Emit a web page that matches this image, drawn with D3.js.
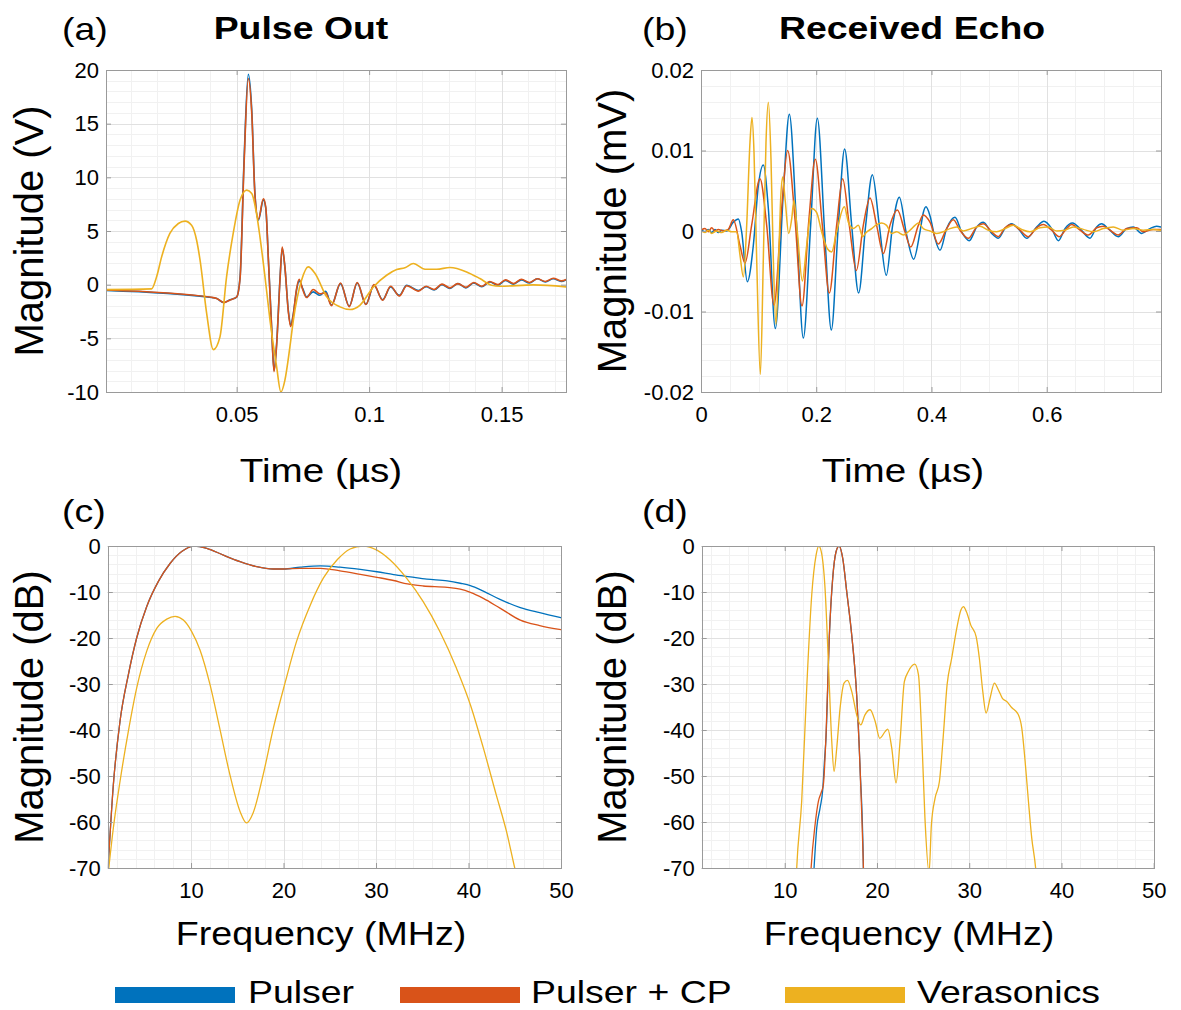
<!DOCTYPE html>
<html>
<head>
<meta charset="utf-8">
<script src="https://cdn.jsdelivr.net/npm/d3@7/dist/d3.min.js"></script>
<style>
  html, body { margin: 0; padding: 0; background: #fff; }
  svg { display: block; }
  text { font-family: "Liberation Sans", Arial, Helvetica, sans-serif; fill: #000; }
</style>
</head>
<body>
<svg id="fig" width="1181" height="1010"></svg>
<script>
// ---------------- series ----------------
const seriesNames  = ["Pulser", "Pulser + CP", "Verasonics"];
const seriesColors = ["#0072BD", "#D95319", "#EDB120"];

// (a) Pulse out: [time (µs), voltage (V)]
const pulseOutPulser = [
  [0.0007,-0.53],[0.0406,-1.2],[0.0425,-1.3],[0.0452,-1.67],[0.0475,-1.4],[0.0500,-1.15],[0.0513,0.72],
  [0.0528,11.6],[0.0544,19.6],[0.0557,16.3],[0.0569,8.5],[0.0582,6.0],[0.0601,7.9],[0.0610,7.1],[0.0620,2.28],
  [0.0632,-3.94],[0.0641,-8.0],[0.0651,-5.5],[0.0664,0.72],[0.0672,3.37],[0.0682,1.65],[0.0695,-2.39],
  [0.0704,-3.79],[0.0714,-2.7],[0.0726,-0.53],[0.0736,0.35],[0.0750,-0.4],[0.0764,-1.14],[0.0789,-0.67],
  [0.0814,-0.99],[0.0836,-0.62],[0.0858,-1.9],[0.0892,0.1],[0.0925,-2.0],[0.0955,0.15],[0.0988,-1.83],
  [0.1018,-0.06],[0.1051,-1.4],[0.1081,-0.22],[0.1114,-1.0],[0.1142,-0.06],[0.1186,-0.55],[0.1215,-0.2],
  [0.1245,-0.5],[0.1275,0.0],[0.1305,-0.35],[0.1335,0.1],[0.1365,-0.3],[0.1395,0.15],[0.1425,-0.2],
  [0.1455,0.25],[0.1485,-0.05],[0.1515,0.4],[0.1545,0.05],[0.1575,0.45],[0.1605,0.15],[0.1635,0.55],
  [0.1665,0.25],[0.1695,0.55],[0.1725,0.3],[0.1750,0.55]
];
const pulseOutCP = [
  [0.0007,-0.5],[0.0406,-1.18],[0.0425,-1.28],[0.0452,-1.67],[0.0475,-1.42],[0.0500,-1.15],[0.0513,0.6],
  [0.0528,11.2],[0.0544,19.2],[0.0557,16.0],[0.0569,8.4],[0.0582,6.1],[0.0601,8.0],[0.0610,7.2],[0.0620,2.2],
  [0.0632,-4.0],[0.0641,-8.1],[0.0651,-5.6],[0.0664,0.6],[0.0672,3.5],[0.0682,1.7],[0.0695,-2.5],
  [0.0704,-3.9],[0.0714,-2.8],[0.0726,-0.4],[0.0736,0.5],[0.0750,-0.5],[0.0764,-1.2],[0.0789,-0.45],
  [0.0814,-0.85],[0.0836,-0.75],[0.0858,-1.95],[0.0892,0.15],[0.0925,-2.05],[0.0955,0.2],[0.0988,-1.85],
  [0.1018,0.0],[0.1051,-1.45],[0.1081,-0.15],[0.1114,-1.05],[0.1142,-0.1],[0.1186,-0.6],[0.1215,-0.15],
  [0.1245,-0.45],[0.1275,0.05],[0.1305,-0.3],[0.1335,0.1],[0.1365,-0.25],[0.1395,0.2],[0.1425,-0.15],
  [0.1455,0.3],[0.1485,0.0],[0.1515,0.45],[0.1545,0.1],[0.1575,0.5],[0.1605,0.2],[0.1635,0.55],
  [0.1665,0.3],[0.1695,0.6],[0.1725,0.35],[0.1750,0.55]
];
const pulseOutVerasonics = [
  [0.0007,-0.46],[0.0179,-0.39],[0.0198,0.73],[0.0217,2.59],[0.0248,4.77],[0.0280,5.70],[0.0305,5.92],
  [0.0330,5.54],[0.0349,4.14],[0.0362,2.28],[0.0387,-2.69],[0.0412,-6.05],[0.0437,-4.87],[0.0462,0.73],
  [0.0487,4.77],[0.0513,7.88],[0.0538,8.81],[0.0557,8.50],[0.0575,6.63],[0.0588,4.46],[0.0607,0.73],
  [0.0626,-3.32],[0.0651,-7.67],[0.0667,-10.0],[0.0682,-8.91],[0.0701,-5.80],[0.0714,-3.32],[0.0745,0.41],
  [0.0770,1.66],[0.0796,1.04],[0.0840,-1.14],[0.0890,-2.07],[0.0928,-2.32],[0.0965,-1.92],[0.1016,-0.21],
  [0.1066,0.88],[0.1104,1.41],[0.1135,1.57],[0.1167,1.97],[0.1211,1.44],[0.1255,1.44],[0.1305,1.60],
  [0.1368,1.19],[0.1418,0.57],[0.1462,-0.05],[0.1494,-0.15],[0.1620,-0.02],[0.1750,-0.22]
];

// (b) Received echo: [time (µs), magnitude (mV)]
const echoPulser = [
  [0,0.0002],[0.0069,-0.0001],[0.0127,0.0002],[0.0185,-0.0002],[0.0243,0.0002],[0.0301,-0.0002],[0.0359,0.0001],
  [0.0445,0],[0.0561,0.0011],[0.0648,0.0015],[0.0706,-0.0001],[0.0804,-0.0063],[0.0908,-0.0018],[0.0995,0.0056],
  [0.1082,0.0082],[0.1169,0.0028],[0.1290,-0.0121],[0.1429,0.0048],[0.1533,0.0145],[0.1660,0.0007],
  [0.1776,-0.0133],[0.1903,0.0007],[0.2019,0.0140],[0.2152,-0.0009],[0.2262,-0.0123],[0.2383,0.0007],
  [0.2493,0.0102],[0.2615,0.0007],[0.2736,-0.0077],[0.2858,0.0007],[0.2974,0.0070],[0.3095,0.0007],
  [0.3216,-0.0055],[0.3326,0.0007],[0.3442,0.0042],[0.3569,-0.0005],[0.3691,-0.0035],[0.3801,-0.0001],
  [0.3859,0.0023],[0.3905,0.0030],[0.3974,0.0019],[0.4061,-0.0009],[0.4148,-0.0024],[0.4264,0.0003],
  [0.4408,0.0017],[0.4524,-0.0001],[0.4657,-0.0012],[0.4784,0.0005],[0.4900,0.0011],[0.5045,-0.0003],
  [0.5160,-0.0009],[0.5276,0.0003],[0.5392,0.0009],[0.5507,0.0003],[0.5652,-0.0009],[0.5825,0.0005],
  [0.5953,0.0012],[0.6086,0.0003],[0.6202,-0.0012],[0.6317,0.0003],[0.6450,0.0010],[0.6578,0.0003],
  [0.6751,-0.0009],[0.6867,0.0005],[0.6954,0.0009],[0.7069,0.0003],[0.7243,-0.0007],[0.7387,0.0003],
  [0.7503,0.0005],[0.7648,-0.0003],[0.7792,0.0003],[0.7908,0.0006],[0.7984,0.0005]
];
const echoCP = [
  [0,0.0001],[0.0069,0.0003],[0.0127,-0.0001],[0.0185,0.0004],[0.0243,0],[0.0301,0.0002],[0.0388,0],
  [0.0474,0.0002],[0.0561,0.0014],[0.0677,-0.0018],[0.0764,-0.0040],[0.0879,0.0007],[0.1024,0.0065],
  [0.1140,0.0007],[0.1267,-0.0092],[0.1400,0.0028],[0.1504,0.0100],[0.1631,0.0015],[0.1753,-0.0093],
  [0.1874,0.0015],[0.1984,0.0089],[0.2106,0.0007],[0.2227,-0.0077],[0.2354,0.0007],[0.2459,0.0065],
  [0.2574,0.0007],[0.2696,-0.0049],[0.2817,0.0007],[0.2933,0.0041],[0.3049,0.0007],[0.3164,-0.0028],
  [0.3280,0.0007],[0.3407,0.0026],[0.3540,-0.0001],[0.3639,-0.0020],[0.3772,0.0007],[0.3859,0.0020],
  [0.3974,0.0011],[0.4119,-0.0016],[0.4264,0.0003],[0.4379,0.0014],[0.4495,0.0001],[0.4640,-0.0009],
  [0.4784,0.0005],[0.4900,0.0009],[0.5045,-0.0001],[0.5160,-0.0007],[0.5276,0.0004],[0.5392,0.0008],
  [0.5536,0.0001],[0.5681,-0.0007],[0.5825,0.0004],[0.5941,0.0008],[0.6086,0.0001],[0.6219,-0.0007],
  [0.6346,0.0003],[0.6433,0.0008],[0.6578,0.0001],[0.6722,-0.0005],[0.6867,0.0004],[0.6983,0.0006],
  [0.7098,0.0001],[0.7243,-0.0005],[0.7387,0.0003],[0.7561,0.0004],[0.7677,-0.0001],[0.7850,0.0002],
  [0.7984,0.0002]
];
const echoVerasonics = [
  [0,0],[0.0069,-0.0002],[0.0127,0.0001],[0.0185,-0.0003],[0.0272,0],[0.0359,-0.0002],[0.0445,0.0001],
  [0.0532,-0.0001],[0.0619,-0.0001],[0.0677,-0.0030],[0.0735,-0.0057],[0.0793,0.0007],[0.0850,0.0110],
  [0.0885,0.0141],[0.0920,0.0098],[0.0966,-0.0034],[0.1030,-0.0178],[0.1082,-0.0034],[0.1128,0.0110],
  [0.1169,0.0160],[0.1215,0.0089],[0.1255,-0.0034],[0.1302,-0.0116],[0.1348,-0.0034],[0.1383,0.0040],
  [0.1417,0.0067],[0.1464,0.0036],[0.1521,-0.0003],[0.1574,0.0015],[0.1614,0.0038],[0.1672,-0.0001],
  [0.1759,-0.0062],[0.1834,-0.0018],[0.1921,0.0028],[0.2007,0.0023],[0.2094,-0.0001],[0.2193,-0.0022],
  [0.2268,-0.0026],[0.2354,-0.0001],[0.2488,0.0030],[0.2557,0.0011],[0.2644,0.0003],[0.2731,0.0007],
  [0.2806,-0.0007],[0.2864,-0.0002],[0.2962,0.0003],[0.3049,0.0008],[0.3135,0.0010],[0.3222,0.0007],
  [0.3309,-0.0003],[0.3396,-0.0001],[0.3512,-0.0005],[0.3627,0.0001],[0.3714,0.0007],[0.3772,0.0010],
  [0.3859,0.0003],[0.3974,0],[0.4090,-0.0003],[0.4206,-0.0001],[0.4321,0.0003],[0.4437,0.0005],
  [0.4553,0],[0.4697,0.0003],[0.4842,0.0006],[0.4987,0.0001],[0.5131,-0.0001],[0.5276,0.0003],
  [0.5420,0.0007],[0.5565,0.0002],[0.5710,-0.0001],[0.5883,0.0004],[0.6028,0.0005],[0.6173,0],
  [0.6317,0.0001],[0.6462,0.0005],[0.6635,0.0002],[0.6809,-0.0001],[0.6982,0.0003],[0.7156,0.0005],
  [0.7330,0.0001],[0.7503,0.0003],[0.7677,0.0001],[0.7850,0.0002],[0.7984,0.0001]
];

// (c) Pulse-out spectrum: [frequency (MHz), magnitude (dB)]
const specOutPulser = [
  [1.0,-71],[1.6,-51.9],[2.32,-38.1],[3.22,-28],[4.12,-20],[5.2,-13.2],[6.47,-7.7],[7.73,-3.8],[8.99,-1.2],
  [10.36,0],[11.7,-0.5],[13.5,-2.0],[15.3,-3.4],[17.1,-4.5],[18.9,-5.0],[20,-5.0],[21.8,-4.6],[24,-4.3],
  [26.1,-4.6],[28.3,-5.1],[30.1,-5.6],[31.9,-6.2],[33.7,-6.7],[35.5,-7.2],[37.7,-7.6],[39.1,-8.1],
  [40.2,-8.6],[41.6,-9.8],[43.4,-11.6],[45.6,-13.4],[47.7,-14.5],[50,-15.6]
];
const specOutCP = [
  [1.0,-71],[1.6,-51.9],[2.32,-38.1],[3.22,-28],[4.12,-20],[5.2,-13.2],[6.47,-7.7],[7.73,-3.8],[8.99,-1.2],
  [10.36,0],[11.7,-0.5],[13.5,-2.0],[15.3,-3.4],[17.1,-4.5],[18.9,-5.0],[20,-5.0],[21.8,-4.85],[24,-4.85],
  [26.1,-5.4],[28.3,-6.15],[30.1,-6.8],[31.9,-7.5],[33.4,-8.25],[35.1,-8.7],[37.7,-9.0],[39.1,-9.4],
  [40.2,-10.1],[41.6,-11.4],[43.4,-13.5],[45.6,-16.1],[47.7,-17.3],[50,-18.2]
];
const specOutVerasonics = [
  [1.0,-72],[1.6,-61.3],[2.32,-51.2],[3.22,-40.3],[4.12,-30.9],[5.2,-22.9],[6.29,-17.9],[7.37,-15.9],
  [8.27,-15.3],[9.17,-16.1],[10.07,-18.6],[10.97,-22.6],[12.06,-30.2],[13.1,-39.6],[14.2,-49.7],
  [15.3,-57.7],[16.0,-60.2],[16.7,-58.1],[17.8,-49.7],[18.9,-39.6],[20.2,-29.5],[21.4,-20.8],[22.9,-12.8],
  [24.3,-7.0],[25.8,-3.0],[27.2,-0.65],[28.6,0],[30.1,-0.9],[31.5,-3.0],[33.3,-7.0],[35.1,-12.1],
  [36.9,-18.6],[38.7,-26.6],[40.2,-34.5],[41.6,-43.9],[43.0,-54.1],[44.1,-62.0],[45.0,-70],[45.6,-75]
];

// (d) Echo spectrum: [frequency (MHz), magnitude (dB)]
const specEchoPulser = [
  [12.9,-80],[13.18,-70],[13.47,-61.3],[13.83,-57],[14.12,-53],[14.3,-47],[14.48,-41.5],[14.84,-19.5],
  [15.2,-7.1],[15.57,-1.2],[15.89,0],[16.29,-2.7],[16.72,-9.9],[17.26,-19.3],[17.8,-32.4],[18.17,-48.3],
  [18.53,-70],[18.6,-80]
];
const specEchoCP = [
  [12.6,-80],[12.86,-70],[13.29,-60.6],[13.65,-55.5],[13.94,-53.7],[14.19,-51.9],[14.48,-41.0],[14.84,-19.3],
  [15.2,-7.0],[15.57,-1.2],[15.89,0],[16.29,-2.7],[16.72,-9.9],[17.26,-19.3],[17.8,-32.4],[18.17,-48.3],
  [18.53,-70],[18.65,-80]
];
const specEchoVerasonics = [
  [11.1,-80],[11.3,-70],[11.84,-55.5],[12.4,-30.2],[12.93,-10.6],[13.4,-2.0],[13.69,0],[14.0,-1.6],
  [14.37,-9.2],[14.73,-25.1],[15.1,-42.5],[15.35,-49.0],[15.64,-43.9],[16.0,-35.3],[16.43,-29.8],
  [16.8,-29.2],[17.26,-31.6],[17.8,-36.7],[18.24,-38.9],[18.7,-36.7],[19.25,-35.6],[19.8,-38.1],
  [20.3,-41.8],[20.9,-40.3],[21.17,-39.8],[21.6,-43.9],[22.07,-51.5],[22.5,-42.5],[22.97,-29.5],
  [23.4,-27.3],[24.1,-25.7],[24.5,-28.0],[24.85,-41.0],[25.2,-59.1],[25.65,-71],[25.9,-60.6],[26.3,-54.8],
  [26.77,-51.2],[27.2,-41.0],[27.6,-30.2],[28.1,-24.4],[28.65,-17.9],[29.1,-13.9],[29.37,-13.2],
  [29.7,-14.3],[30.17,-17.2],[30.75,-19.7],[31.1,-24.4],[31.47,-31.6],[31.83,-36.3],[32.26,-33.1],
  [32.73,-29.8],[33.17,-31.3],[33.6,-33.1],[34.07,-33.8],[34.6,-35.1],[35.33,-36.7],[35.7,-39.6],
  [36.06,-46.8],[36.42,-55.5],[36.78,-63.5],[37.2,-70],[37.5,-78]
];

// ---------------- ticks ----------------
const timeTicksA      = [0.05, 0.1, 0.15];
const timeTickLabelsA = ["0.05", "0.1", "0.15"];
const voltTicks       = [20, 15, 10, 5, 0, -5, -10];
const voltTickLabels  = ["20", "15", "10", "5", "0", "-5", "-10"];
const timeTicksB      = [0, 0.2, 0.4, 0.6];
const timeTickLabelsB = ["0", "0.2", "0.4", "0.6"];
const echoTicks       = [0.02, 0.01, 0, -0.01, -0.02];
const echoTickLabels  = ["0.02", "0.01", "0", "-0.01", "-0.02"];
const freqTicks       = [10, 20, 30, 40, 50];
const freqTickLabels  = ["10", "20", "30", "40", "50"];
const dbTicks         = [0, -10, -20, -30, -40, -50, -60, -70];
const dbTickLabels    = ["0", "-10", "-20", "-30", "-40", "-50", "-60", "-70"];

// ---------------- layout ----------------
const svg = d3.select("#fig");
const defs = svg.append("defs");

const panels = [
  { id: "a", box: [106, 70, 566, 392], xDomain: [0.0007, 0.1743], yDomain: [-10, 20],
    xTicks: timeTicksA, xLabels: timeTickLabelsA, yTicks: voltTicks, yLabels: voltTickLabels,
    xMinor: 0.01, yMinor: 1, lw: 1.6,
    series: [pulseOutPulser, pulseOutCP, pulseOutVerasonics] },
  { id: "b", box: [701, 70, 1161, 392], xDomain: [0, 0.7984], yDomain: [-0.02, 0.02],
    xTicks: timeTicksB, xLabels: timeTickLabelsB, yTicks: echoTicks, yLabels: echoTickLabels,
    xMinor: 0.05, yMinor: 0.002, lw: 1.5,
    series: [echoPulser, echoCP, echoVerasonics] },
  { id: "c", box: [107.8, 546, 561, 868], xDomain: [1, 50], yDomain: [-70, 0],
    xTicks: freqTicks, xLabels: freqTickLabels, yTicks: dbTicks, yLabels: dbTickLabels,
    xMinor: 2, yMinor: 2, lw: 1.3,
    series: [specOutPulser, specOutCP, specOutVerasonics] },
  { id: "d", box: [701.7, 546, 1153.7, 868], xDomain: [1, 50], yDomain: [-70, 0],
    xTicks: freqTicks, xLabels: freqTickLabels, yTicks: dbTicks, yLabels: dbTickLabels,
    xMinor: 2, yMinor: 2, lw: 1.3,
    series: [specEchoPulser, specEchoCP, specEchoVerasonics] }
];

const AXIS_GRAY = "#9a9a9a";
const MAJOR_GRID = "#e1e1e1";
const MINOR_GRID = "#f1f1f1";
const TICK_FONT = 22;

function stepsIn(domain, step) {
  const lo = Math.ceil(domain[0] / step - 1e-6), hi = Math.floor(domain[1] / step + 1e-6);
  return d3.range(lo, hi + 1).map(i => +(i * step).toFixed(6));
}

function drawPanel(p) {
  const [x0, y0, x1, y1] = p.box;
  const x = d3.scaleLinear().domain(p.xDomain).range([x0, x1]);
  const y = d3.scaleLinear().domain(p.yDomain).range([y1, y0]);
  const g = svg.append("g").attr("class", "panel-" + p.id);

  defs.append("clipPath").attr("id", "clip-" + p.id)
    .append("rect").attr("x", x0).attr("y", y0).attr("width", x1 - x0).attr("height", y1 - y0);

  const isMajor = (v, ticks) => ticks.some(t => Math.abs(t - v) < 1e-9);
  const minorX = stepsIn(p.xDomain, p.xMinor).filter(v => !isMajor(v, p.xTicks));
  const minorY = stepsIn(p.yDomain, p.yMinor).filter(v => !isMajor(v, p.yTicks));
  const crisp = v => Math.round(v) + 0.5;

  // minor grid
  g.append("g").selectAll("line").data(minorX).join("line")
    .attr("x1", d => crisp(x(d))).attr("x2", d => crisp(x(d))).attr("y1", y0).attr("y2", y1)
    .attr("stroke", MINOR_GRID).attr("stroke-width", 1);
  g.append("g").selectAll("line").data(minorY).join("line")
    .attr("y1", d => crisp(y(d))).attr("y2", d => crisp(y(d))).attr("x1", x0).attr("x2", x1)
    .attr("stroke", MINOR_GRID).attr("stroke-width", 1);
  // major grid
  g.append("g").selectAll("line").data(p.xTicks).join("line")
    .attr("x1", d => crisp(x(d))).attr("x2", d => crisp(x(d))).attr("y1", y0).attr("y2", y1)
    .attr("stroke", MAJOR_GRID).attr("stroke-width", 1);
  g.append("g").selectAll("line").data(p.yTicks).join("line")
    .attr("y1", d => crisp(y(d))).attr("y2", d => crisp(y(d))).attr("x1", x0).attr("x2", x1)
    .attr("stroke", MAJOR_GRID).attr("stroke-width", 1);

  // data lines
  const line = d3.line().x(d => x(d[0])).y(d => y(d[1])).curve(d3.curveMonotoneX);
  g.append("g").attr("clip-path", "url(#clip-" + p.id + ")")
    .selectAll("path").data(p.series).join("path")
    .attr("d", line).attr("fill", "none")
    .attr("stroke", (d, i) => seriesColors[i])
    .attr("stroke-width", p.lw).attr("stroke-linejoin", "round").attr("stroke-linecap", "round");

  // box
  g.append("rect").attr("x", Math.round(x0) + 0.5).attr("y", Math.round(y0) + 0.5)
    .attr("width", Math.round(x1) - Math.round(x0)).attr("height", Math.round(y1) - Math.round(y0))
    .attr("fill", "none").attr("stroke", AXIS_GRAY).attr("stroke-width", 1);

  // axes with inward ticks on all four sides
  const fmtX = (d, i) => p.xLabels[i];
  const fmtY = (d, i) => p.yLabels[i];
  const styleAxis = sel => {
    sel.select(".domain").remove();
    sel.selectAll(".tick line").attr("stroke", AXIS_GRAY);
    sel.selectAll(".tick text").attr("fill", "#000").attr("font-size", TICK_FONT)
      .attr("font-family", '"Liberation Sans", Arial, Helvetica, sans-serif');
    sel.attr("font-size", null).attr("font-family", null);
  };
  g.append("g").attr("transform", `translate(0,${y1})`)
    .call(d3.axisBottom(x).tickValues(p.xTicks).tickFormat(fmtX).tickSizeInner(-5).tickSizeOuter(0).tickPadding(14))
    .call(styleAxis);
  g.append("g").attr("transform", `translate(0,${y0})`)
    .call(d3.axisTop(x).tickValues(p.xTicks).tickFormat("").tickSizeInner(-5).tickSizeOuter(0))
    .call(styleAxis);
  g.append("g").attr("transform", `translate(${x0},0)`)
    .call(d3.axisLeft(y).tickValues(p.yTicks).tickFormat(fmtY).tickSizeInner(-5).tickSizeOuter(0).tickPadding(7))
    .call(styleAxis);
  g.append("g").attr("transform", `translate(${x1},0)`)
    .call(d3.axisRight(y).tickValues(p.yTicks).tickFormat("").tickSizeInner(-5).tickSizeOuter(0))
    .call(styleAxis);
}

panels.forEach(drawPanel);

// ---------------- text ----------------
const BIG = 32, STRETCH = 1.17;
function label(x, y, str, opts = {}) {
  const size = opts.size || BIG;
  const sx = opts.sx || STRETCH;
  const rot = opts.rotate ? " rotate(-90)" : "";
  return svg.append("text")
    .attr("transform", `translate(${x},${y})${rot} scale(${sx},1)`)
    .attr("text-anchor", opts.anchor || "start")
    .attr("font-size", size)
    .attr("font-weight", opts.bold ? "bold" : null)
    .attr("dy", opts.dy || null)
    .text(str);
}

// panel letters
label(62, 40, "(a)");
label(642, 40, "(b)");
label(62, 522, "(c)");
label(642, 522, "(d)");

// titles
label(301, 39, "Pulse Out", { anchor: "middle", bold: true });
label(912, 39, "Received Echo", { anchor: "middle", bold: true });

// x-axis titles
label(321, 482, "Time (µs)", { anchor: "middle", size: 33 });
label(903, 482, "Time (µs)", { anchor: "middle", size: 33 });
label(321, 945, "Frequency (MHz)", { anchor: "middle", size: 33, sx: 1.14 });
label(909, 945, "Frequency (MHz)", { anchor: "middle", size: 33, sx: 1.14 });

// y-axis titles
label(29, 231, "Magnitude (V)", { anchor: "middle", rotate: true, size: 40, sx: 1, dy: "0.36em" });
label(612, 231, "Magnitude (mV)", { anchor: "middle", rotate: true, size: 40, sx: 1, dy: "0.36em" });
label(29, 707, "Magnitude (dB)", { anchor: "middle", rotate: true, size: 40, sx: 1, dy: "0.36em" });
label(612, 707, "Magnitude (dB)", { anchor: "middle", rotate: true, size: 40, sx: 1, dy: "0.36em" });

// ---------------- legend ----------------
const legendSwatchX = [115, 400, 785];
const legendTextX = [248, 531, 917];
const legend = svg.append("g").attr("class", "legend");
legend.selectAll("rect").data(seriesNames).join("rect")
  .attr("x", (d, i) => legendSwatchX[i]).attr("y", 987)
  .attr("width", 120).attr("height", 16)
  .attr("fill", (d, i) => seriesColors[i]);
seriesNames.forEach((name, i) => label(legendTextX[i], 1003, name));
</script>
</body>
</html>
